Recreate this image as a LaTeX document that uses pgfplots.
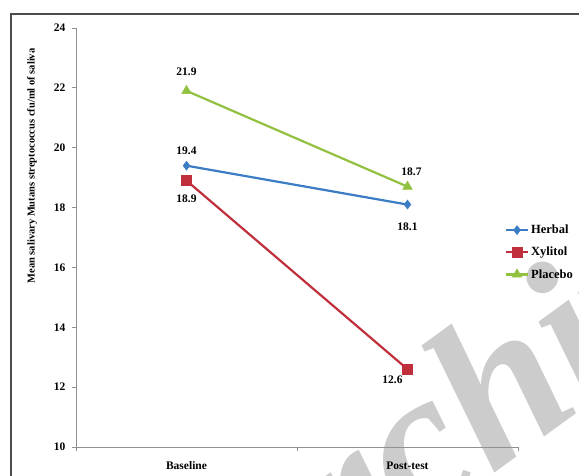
\documentclass[border=0pt]{standalone}
\usepackage{fontspec}
\setmainfont{Liberation Serif}
\usepackage{pgfplots}
\pgfplotsset{compat=1.18}
\definecolor{cHerb}{RGB}{58,125,196}
\definecolor{cXyl}{RGB}{192,48,60}
\definecolor{cPla}{RGB}{146,192,64}
\definecolor{axgray}{RGB}{145,145,145}
\definecolor{wm}{RGB}{204,204,204}
\begin{document}
\begin{tikzpicture}[x=1pt,y=1pt]
\useasboundingbox (0,0) rectangle (579,475);
\begin{scope}
\clip (0,0) rectangle (579,475);
\node[text=wm, rotate=36, font=\fontsize{210}{210}\selectfont\bfseries\itshape, anchor=base west, inner sep=0pt] at (236,-186) {Archive};
\end{scope}
\draw[black!70, line width=1.2pt] (11,-5) -- (11,461) -- (590,461);
\node[rotate=90, font=\fontsize{10.5}{12}\selectfont\bfseries] at (32,309) {Mean salivary Mutans streptococcus cfu/ml of saliva};
\begin{axis}[
  at={(76pt,28pt)}, anchor=south west,
  scale only axis, width=442pt, height=419pt,
  xmin=-0.5, xmax=1.5, ymin=10, ymax=24,
  axis x line*=bottom, axis y line*=left,
  axis line style={axgray, line width=0.9pt},
  xtick={0,1}, xticklabels={Baseline,Post-test},
  minor xtick={-0.5,0.5,1.5},
  major x tick style={draw=none},
  minor x tick style={axgray, line width=0.8pt},
  ytick={10,12,...,24},
  y tick style={axgray, line width=0.8pt},
  tick align=outside, major tick length=4pt, minor tick length=4pt,
  xticklabel style={font=\fontsize{11.5}{12}\selectfont\bfseries, yshift=-7pt},
  yticklabel style={font=\fontsize{11.5}{12}\selectfont\bfseries, xshift=-3pt},
  /pgf/number format/assume math mode=true,
  legend style={at={(0.97,0.535)}, anchor=north west, draw=none, fill=none,
    font=\fontsize{12.5}{13}\selectfont\bfseries, row sep=8pt, inner sep=0pt},
  legend cell align=left,
  legend image code/.code={\draw[mark repeat=2,mark phase=2] plot coordinates {(0pt,0pt) (11pt,0pt) (22pt,0pt)};},
  clip=false,
]
\addplot[cHerb, line width=2.2pt, mark=diamond*, mark size=4.5pt, mark options={solid, line width=0.5pt}] coordinates {(0,19.4) (1,18.1)};
\addlegendentry{Herbal}
\addplot[cXyl, line width=2.2pt, mark=square*, mark size=5pt, mark options={solid, line width=0.5pt}] coordinates {(0,18.9) (1,12.6)};
\addlegendentry{Xylitol}
\addplot[cPla, line width=2.2pt, mark=triangle*, mark size=5.5pt, mark options={solid, line width=0.5pt}] coordinates {(0,21.9) (1,18.7)};
\addlegendentry{Placebo}
\begin{scope}[font=\fontsize{11.5}{12}\selectfont\bfseries]
\node at (axis cs:0,21.9) [yshift=19pt] {21.9};
\node at (axis cs:0,19.4) [yshift=15pt] {19.4};
\node at (axis cs:0,18.9) [yshift=-18pt] {18.9};
\node at (axis cs:1,18.7) [yshift=15pt, xshift=4pt] {18.7};
\node at (axis cs:1,18.1) [yshift=-22pt] {18.1};
\node at (axis cs:1,12.6) [yshift=-11pt, xshift=-15pt] {12.6};
\end{scope}
\end{axis}
\end{tikzpicture}
\end{document}
